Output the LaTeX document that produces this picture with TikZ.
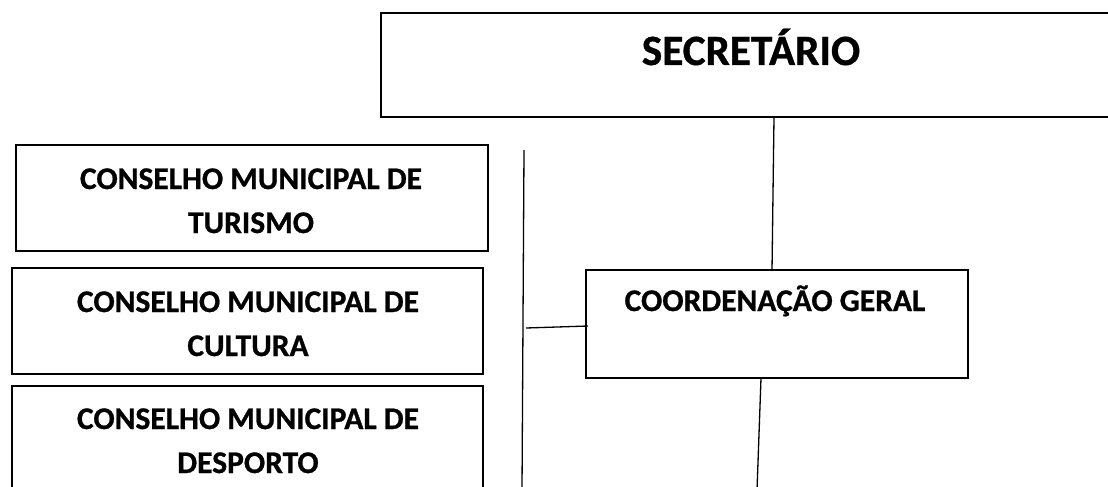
\documentclass[tikz,border=0pt]{standalone}
\usepackage{fontspec}
\setmainfont{Carlito}[BoldFeatures={FakeBold=0.8}]
\begin{document}
\begin{tikzpicture}[x=1pt,y=-1pt,
  box/.style={draw=black,line width=1.6pt,inner sep=0pt,outer sep=0pt,anchor=north west},
  lbl/.style={font=\bfseries\fontsize{31.5}{44}\selectfont,align=center,inner sep=0pt,anchor=base},
  big/.style={font=\bfseries\fontsize{43.2}{50}\selectfont,inner sep=0pt,anchor=base},
  link/.style={draw=black,line width=1.3pt}]
\clip (0,0) rectangle (1108,487);
\fill[white] (0,0) rectangle (1108,487);
% boxes
\node[box,minimum width=740pt,minimum height=104pt] (sec) at (381,13) {};
\node[box,minimum width=472pt,minimum height=106pt] (tur) at (16,145) {};
\node[box,minimum width=471pt,minimum height=106pt] (cul) at (12,268) {};
\node[box,minimum width=471pt,minimum height=140pt] (des) at (12,386) {};
\node[box,minimum width=382pt,minimum height=108pt] (coo) at (586,270) {};
% labels (base anchor = baseline of the last line)
\node[big] (tsec) at (751,65) {SECRETÁRIO};
\node[lbl] (ttur) at (251,233) {CONSELHO MUNICIPAL DE\\TURISMO};
\node[lbl] (tcul) at (248,356) {CONSELHO MUNICIPAL DE\\CULTURA};
\node[lbl] (tdes) at (248,473) {CONSELHO MUNICIPAL DE\\DESPORTO};
\node[lbl] (tcoo) at (775,311) {COORDENAÇÃO GERAL};
% connector end points
\coordinate (s1) at (774,117);
\coordinate (c1) at (772,271);
\coordinate (v1) at (524,150);
\coordinate (v2) at (522,490);
\coordinate (h1) at (526,328);
\coordinate (h2) at (588,326);
\coordinate (b1) at (761,378);
\coordinate (b2) at (757,490);
\draw[link] (s1) -- (c1);
\draw[link] (v1) -- (v2);
\draw[link] (h1) -- (h2);
\draw[link] (b1) -- (b2);
\end{tikzpicture}
\end{document}
